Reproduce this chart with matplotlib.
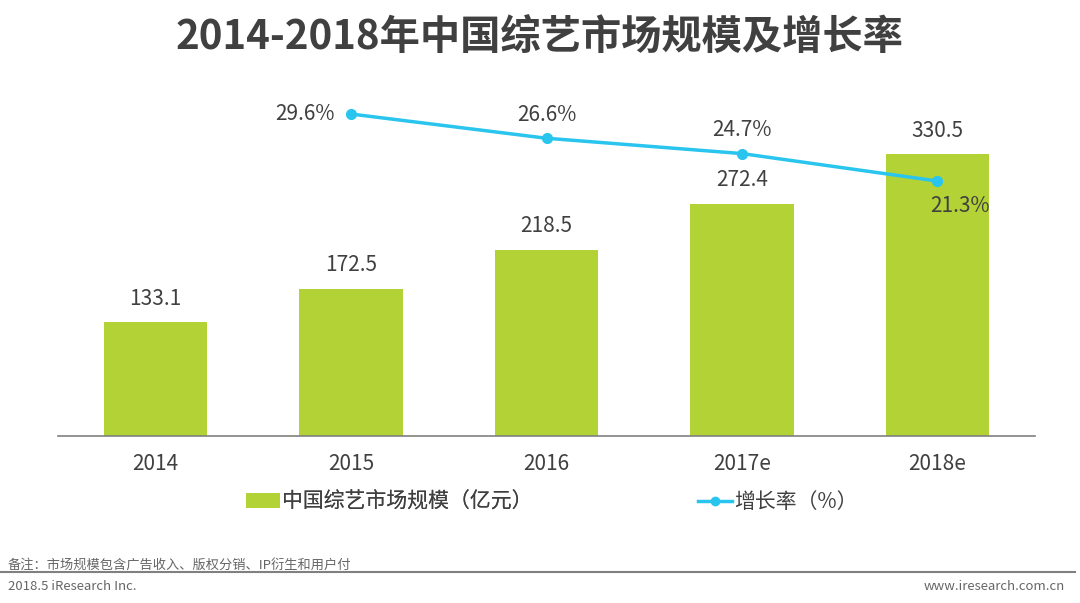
import matplotlib
matplotlib.use("Agg")
import matplotlib.pyplot as plt
from matplotlib.lines import Line2D
from matplotlib.patches import Patch

plt.rcParams['font.family'] = ['Noto Sans CJK SC', 'DejaVu Sans']

years = ['2014', '2015', '2016', '2017e', '2018e']
market = [133.1, 172.5, 218.5, 272.4, 330.5]
growth = [None, 29.6, 26.6, 24.7, 21.3]
title = '2014-2018年中国综艺市场规模及增长率'
bar_label = '中国综艺市场规模（亿元）'
line_label = '增长率（%）'
note = '备注：市场规模包含广告收入、版权分销、IP衍生和用户付'
source = '2018.5 iResearch Inc.'
site = 'www.iresearch.com.cn'

green = '#B2D235'
blue = '#29C5EE'
txt = '#404040'

W, H = 1080, 603
fig = plt.figure(figsize=(W/100, H/100), dpi=100)

def fx(px): return px / W
def fy(py): return 1 - py / H

ax = fig.add_axes([fx(58), fy(436), fx(1035) - fx(58), fy(100) - fy(436)])
x = list(range(len(years)))
ax.bar(x, market, width=0.53, color=green, zorder=2)
ax.set_xlim(-0.5, 4.5)
ax.set_ylim(0, 394)
for s in ['top', 'right', 'left']:
    ax.spines[s].set_visible(False)
ax.spines['bottom'].set_color('#808080')
ax.spines['bottom'].set_linewidth(1.2)
ax.set_yticks([])
ax.set_xticks(x)
ax.set_xticklabels(years, fontsize=15, color=txt)
ax.tick_params(axis='x', length=0, pad=12)
for xi, v in zip(x, market):
    ax.annotate(f'{v:.1f}', (xi, v), xytext=(0, 9), textcoords='offset points',
                ha='center', va='bottom', fontsize=15, color=txt)

ax2 = ax.twinx()
ax2.set_ylim(-10.3, 31.34)
ax2.axis('off')
gx = [xi for xi, g in zip(x, growth) if g is not None]
gy = [g for g in growth if g is not None]
ax2.plot(gx, gy, color=blue, lw=2.5, marker='o', ms=7, zorder=3)
offsets = [(-12, 0, 'right', 'center'), (0, 9, 'center', 'bottom'),
           (0, 9, 'center', 'bottom'), (16, -10, 'center', 'top')]
for xi, g, (dx, dy, ha, va) in zip(gx, gy, offsets):
    ax2.annotate(f'{g:.1f}%', (xi, g), xytext=(dx, dy), textcoords='offset points',
                 ha=ha, va=va, fontsize=15, color=txt)

fig.text(0.5, fy(38), title, ha='center', va='center', fontsize=29,
         fontweight='bold', color=txt)

h1 = [Patch(facecolor=green, edgecolor='none')]
h2 = [Line2D([0], [0], color=blue, lw=2.5, marker='o', ms=6)]
leg1 = fig.legend(h1, [bar_label], loc='center left',
                  bbox_to_anchor=(fx(238), fy(502)), frameon=False,
                  fontsize=15, labelcolor=txt, handlelength=1.6,
                  handletextpad=0.1, borderaxespad=0)
fig.legend(h2, [line_label], loc='center left',
           bbox_to_anchor=(fx(690), fy(502)), frameon=False,
           fontsize=15, labelcolor=txt, handlelength=1.6,
           handletextpad=0.1, borderaxespad=0)
fig.add_artist(leg1)

fig.text(fx(8), fy(565), note, ha='left', va='center', fontsize=9.5, color='#666666')
fig.add_artist(Line2D([fx(0), fx(1075)], [fy(572), fy(572)], color='#808080', lw=1.5))
fig.text(fx(8), fy(587), source, ha='left', va='center', fontsize=9.5, color='#666666')
fig.text(fx(1065), fy(587), site, ha='right', va='center', fontsize=9.5, color='#666666')

fig.savefig('out.png', dpi=100)
